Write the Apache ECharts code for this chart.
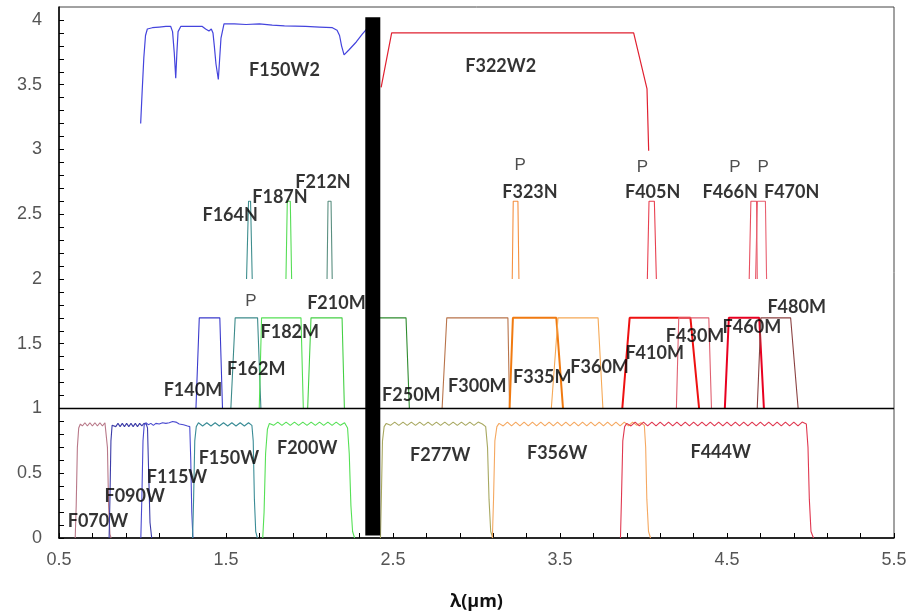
<!DOCTYPE html>
<html>
<head>
<meta charset="utf-8">
<script src="https://cdn.jsdelivr.net/npm/echarts@6/dist/echarts.min.js"></script>
<style>html,body{margin:0;padding:0;background:#fff;}#c{width:912px;height:614px;}</style>
</head>
<body>
<div id="c"></div>
<script>
// ---- axis ticks / labels ----
var xLabels = [0.5, 1.5, 2.5, 3.5, 4.5, 5.5];
var xTicks = [0.5,0.7,0.9,1.1,1.3,1.5,1.7,1.9,2.1,2.3,2.5,2.7,2.9,3.1,3.3,3.5,3.7,3.9,4.1,4.3,4.5,4.7,4.9,5.1,5.3,5.5];
var yLabels = [0, 0.5, 1, 1.5, 2, 2.5, 3, 3.5, 4];
var yTicks = [0,0.1,0.2,0.3,0.4,0.5,0.6,0.7,0.8,0.9,1,1.1,1.2,1.3,1.4,1.5,1.6,1.7,1.8,1.9,2,2.1,2.2,2.3,2.4,2.5,2.6,2.7,2.8,2.9,3,3.1,3.2,3.3,3.4,3.5,3.6,3.7,3.8,3.9,4];

// ---- wide filters ----
var F070W = [[0.597,0],[0.603,0.25],[0.610,0.7],[0.618,0.85],[0.628,0.88],[0.640,0.865],[0.655,0.89],[0.670,0.865],[0.685,0.89],[0.700,0.865],[0.715,0.89],[0.730,0.865],[0.745,0.89],[0.760,0.865],[0.775,0.89],[0.785,0.88],[0.790,0.7],[0.797,0.25],[0.805,0.03],[0.812,0]];
var F090W = [[0.800,0],[0.805,0.3],[0.811,0.75],[0.818,0.87],[0.828,0.885],[0.840,0.86],[0.853,0.885],[0.866,0.86],[0.879,0.885],[0.892,0.86],[0.905,0.885],[0.918,0.86],[0.931,0.885],[0.944,0.86],[0.957,0.885],[0.970,0.86],[0.983,0.885],[0.996,0.865],[1.009,0.885],[1.022,0.88],[1.030,0.85],[1.037,0.5],[1.045,0.12],[1.055,0]];
var F115W = [[0.990,0],[0.996,0.3],[1.003,0.75],[1.010,0.87],[1.020,0.89],[1.035,0.875],[1.050,0.885],[1.065,0.87],[1.080,0.885],[1.100,0.88],[1.120,0.89],[1.140,0.885],[1.160,0.89],[1.180,0.90],[1.200,0.895],[1.220,0.88],[1.245,0.875],[1.270,0.865],[1.283,0.86],[1.289,0.6],[1.295,0.2],[1.302,0]];
var F150W = [[1.300,0],[1.306,0.3],[1.313,0.75],[1.322,0.86],[1.335,0.89],[1.360,0.865],[1.385,0.89],[1.410,0.865],[1.435,0.89],[1.460,0.865],[1.485,0.89],[1.510,0.865],[1.535,0.89],[1.560,0.865],[1.585,0.89],[1.610,0.865],[1.635,0.89],[1.655,0.87],[1.663,0.75],[1.670,0.3],[1.678,0.05],[1.688,0]];
var F200W = [[1.720,0],[1.728,0.2],[1.737,0.65],[1.748,0.84],[1.760,0.885],[1.785,0.87],[1.810,0.895],[1.835,0.87],[1.860,0.895],[1.885,0.87],[1.910,0.895],[1.935,0.87],[1.960,0.895],[1.985,0.87],[2.010,0.895],[2.035,0.87],[2.060,0.895],[2.085,0.87],[2.110,0.895],[2.135,0.87],[2.160,0.895],[2.185,0.87],[2.210,0.89],[2.228,0.85],[2.238,0.65],[2.248,0.25],[2.258,0.05],[2.270,0]];
var F277W = [[2.425,0],[2.430,0.3],[2.437,0.75],[2.447,0.86],[2.460,0.885],[2.485,0.87],[2.510,0.895],[2.535,0.87],[2.560,0.895],[2.585,0.87],[2.610,0.895],[2.635,0.87],[2.660,0.895],[2.685,0.87],[2.710,0.895],[2.735,0.87],[2.760,0.895],[2.785,0.87],[2.810,0.895],[2.835,0.87],[2.860,0.895],[2.885,0.87],[2.910,0.895],[2.935,0.87],[2.960,0.895],[2.985,0.87],[3.010,0.895],[3.035,0.88],[3.055,0.86],[3.066,0.7],[3.075,0.3],[3.085,0.05],[3.098,0]];
var F356W = [[3.095,0],[3.102,0.3],[3.110,0.75],[3.122,0.86],[3.135,0.885],[3.160,0.865],[3.185,0.895],[3.210,0.865],[3.235,0.895],[3.260,0.865],[3.285,0.895],[3.310,0.865],[3.335,0.895],[3.360,0.865],[3.385,0.895],[3.410,0.865],[3.435,0.895],[3.460,0.865],[3.485,0.895],[3.510,0.865],[3.535,0.895],[3.560,0.865],[3.585,0.895],[3.610,0.865],[3.635,0.895],[3.660,0.865],[3.685,0.895],[3.710,0.865],[3.735,0.895],[3.760,0.865],[3.785,0.895],[3.810,0.865],[3.835,0.895],[3.860,0.865],[3.885,0.895],[3.910,0.865],[3.935,0.895],[3.960,0.87],[3.985,0.89],[4.005,0.87],[4.013,0.7],[4.020,0.3],[4.030,0.05],[4.042,0]];
var F444W = [[3.862,0],[3.868,0.3],[3.876,0.75],[3.887,0.86],[3.900,0.885],[3.925,0.865],[3.950,0.895],[3.975,0.865],[4.000,0.895],[4.025,0.865],[4.050,0.895],[4.075,0.865],[4.100,0.895],[4.125,0.865],[4.150,0.895],[4.175,0.865],[4.200,0.895],[4.225,0.865],[4.250,0.895],[4.275,0.865],[4.300,0.895],[4.325,0.865],[4.350,0.895],[4.375,0.865],[4.400,0.895],[4.425,0.865],[4.450,0.895],[4.475,0.865],[4.500,0.895],[4.525,0.865],[4.550,0.895],[4.575,0.865],[4.600,0.895],[4.625,0.865],[4.650,0.895],[4.675,0.865],[4.700,0.895],[4.725,0.865],[4.750,0.895],[4.775,0.865],[4.800,0.895],[4.825,0.865],[4.850,0.895],[4.875,0.865],[4.900,0.895],[4.925,0.865],[4.950,0.895],[4.975,0.88],[4.985,0.7],[4.993,0.3],[5.003,0.05],[5.018,0]];

// ---- medium filters ----
var F140M = [[1.320,1],[1.340,1.7],[1.463,1.7],[1.479,1]];
var F162M = [[1.529,1],[1.555,1.7],[1.689,1.7],[1.709,1]];
var F182M = [[1.699,1],[1.713,1.7],[1.949,1.7],[1.963,1]];
var F210M = [[1.989,1],[2.009,1.7],[2.195,1.7],[2.209,1]];
var F250M = [[2.380,1],[2.395,1.7],[2.578,1.7],[2.598,1]];
var F300M = [[2.794,1],[2.822,1.7],[3.188,1.7],[3.198,1]];
var F335M = [[3.198,1],[3.218,1.7],[3.478,1.7],[3.518,1]];
var F360M = [[3.448,1],[3.488,1.7],[3.728,1.7],[3.757,1]];
var F410M = [[3.873,1],[3.917,1.7],[4.281,1.7],[4.333,1]];
var F430M = [[4.197,1],[4.211,1.7],[4.391,1.7],[4.407,1]];
var F460M = [[4.487,1],[4.511,1.7],[4.693,1.7],[4.721,1]];
var F480M = [[4.681,1],[4.703,1.7],[4.881,1.7],[4.926,1]];

// ---- narrow filters ----
var F164N = [[1.623,2],[1.635,2.6],[1.647,2.6],[1.657,2]];
var F187N = [[1.859,2],[1.867,2.6],[1.885,2.6],[1.893,2]];
var F212N = [[2.105,2],[2.111,2.6],[2.129,2.6],[2.136,2]];
var F323N = [[3.214,2],[3.220,2.6],[3.248,2.6],[3.254,2]];
var F405N = [[4.023,2],[4.033,2.6],[4.065,2.6],[4.077,2]];
var F466N = [[4.633,2],[4.643,2.6],[4.677,2.6],[4.681,2]];
var F470N = [[4.671,2],[4.682,2.6],[4.730,2.6],[4.737,2]];

// ---- very wide filters ----
var F150W2 = [[0.989,3.20],[0.998,3.45],[1.008,3.71],[1.018,3.88],[1.029,3.93],[1.059,3.94],[1.100,3.945],[1.140,3.95],[1.169,3.95],[1.180,3.91],[1.190,3.75],[1.199,3.55],[1.206,3.75],[1.213,3.91],[1.229,3.95],[1.300,3.95],[1.358,3.95],[1.378,3.93],[1.398,3.915],[1.412,3.93],[1.422,3.90],[1.430,3.80],[1.440,3.66],[1.454,3.54],[1.462,3.70],[1.470,3.86],[1.488,3.97],[1.550,3.97],[1.620,3.965],[1.700,3.97],[1.777,3.96],[1.850,3.955],[1.977,3.95],[2.060,3.945],[2.137,3.94],[2.165,3.92],[2.180,3.88],[2.192,3.80],[2.207,3.73],[2.237,3.77],[2.280,3.83],[2.316,3.89],[2.350,3.94]];
var F322W2 = [[2.429,3.48],[2.492,3.90],[3.941,3.90],[4.021,3.467],[4.031,2.99]];

// ---- reference lines ----
var dividerLine = [[0.5,1],[5.5,1]];
var dichroicBar = [[2.379,0.02],[2.379,4.02]];

// ---- text annotations [x, y, text] ----
var filterLabels = [
  [1.850,3.61,'F150W2'],[3.145,3.645,'F322W2'],
  [1.525,2.49,'F164N'],[1.823,2.63,'F187N'],[2.081,2.75,'F212N'],
  [3.320,2.668,'F323N'],[4.055,2.668,'F405N'],[4.519,2.668,'F466N'],[4.887,2.668,'F470N'],
  [2.161,1.81,'F210M'],[1.882,1.59,'F182M'],[1.681,1.305,'F162M'],[1.302,1.145,'F140M'],
  [2.610,1.10,'F250M'],[3.005,1.172,'F300M'],[3.394,1.243,'F335M'],[3.737,1.321,'F360M'],
  [4.067,1.43,'F410M'],[4.309,1.56,'F430M'],[4.649,1.625,'F460M'],[4.917,1.78,'F480M'],
  [0.733,0.128,'F070W'],[0.953,0.322,'F090W'],[1.207,0.466,'F115W'],[1.517,0.616,'F150W'],
  [1.986,0.696,'F200W'],[2.783,0.638,'F277W'],[3.483,0.652,'F356W'],[4.462,0.664,'F444W']
];
var pLabels = [[1.649,1.827,'P'],[3.262,2.88,'P'],[3.993,2.86,'P'],[4.547,2.86,'P'],[4.717,2.86,'P']];

// ---- styles ----
var curves = [
  {d:F070W,c:'#b87888',w:1.1},{d:F090W,c:'#3c3ca8',w:1.1},{d:F115W,c:'#4a4ad0',w:1.1},
  {d:F150W,c:'#3a8c96',w:1.1},{d:F200W,c:'#55e055',w:1.1},{d:F277W,c:'#a8a860',w:1.1},
  {d:F356W,c:'#f5a860',w:1.1},{d:F444W,c:'#e03850',w:1.1},
  {d:F140M,c:'#3a3acc',w:1.1},{d:F162M,c:'#3d8b8b',w:1.1},{d:F182M,c:'#55e055',w:1.1},
  {d:F210M,c:'#44d044',w:1.1},{d:F250M,c:'#2e8b2e',w:1.1},{d:F300M,c:'#b8734a',w:1.1},
  {d:F335M,c:'#f07a10',w:2},{d:F360M,c:'#f5a855',w:1.1},{d:F410M,c:'#ee1111',w:2},
  {d:F430M,c:'#e06070',w:1.1},{d:F460M,c:'#e80020',w:2},{d:F480M,c:'#8a4040',w:1.1},
  {d:F164N,c:'#3e8e8e',w:1.1},{d:F187N,c:'#55dd55',w:1.1},{d:F212N,c:'#5a8f80',w:1.1},
  {d:F323N,c:'#f59040',w:1.1},{d:F405N,c:'#e84050',w:1.1},{d:F466N,c:'#e85060',w:1.1},
  {d:F470N,c:'#e86070',w:1.1},
  {d:F150W2,c:'#4444dd',w:1.2},{d:F322W2,c:'#e02030',w:1.2}
];

var series = curves.map(function (s) {
  return {type:'line', data:s.d, showSymbol:false, symbol:'none', silent:true, z:2,
          lineStyle:{color:s.c, width:s.w}, animation:false};
});
series.push({type:'line', data:dividerLine, showSymbol:false, symbol:'none', z:3,
             lineStyle:{color:'#000', width:1.3}, animation:false});
series.push({type:'line', data:dichroicBar, showSymbol:false, symbol:'none', z:5,
             lineStyle:{color:'#000', width:15, cap:'butt'}, animation:false});
series.push({type:'scatter', symbolSize:1, itemStyle:{color:'rgba(0,0,0,0)'}, z:6, animation:false,
  data: filterLabels.map(function (l) { return {value:[l[0], l[1]], name:l[2]}; }),
  label:{show:true, position:'inside', formatter:'{b}', color:'#000', fontFamily:'Lato', fontWeight:'bold', fontSize:18}});
series.push({type:'scatter', symbolSize:1, itemStyle:{color:'rgba(0,0,0,0)'}, z:6, animation:false,
  data: pLabels.map(function (l) { return {value:[l[0], l[1]], name:l[2]}; }),
  label:{show:true, position:'inside', formatter:'{b}', color:'#222', fontFamily:'Liberation Sans', fontSize:17}});

var chart = echarts.init(document.getElementById('c'), null, {renderer:'canvas'});
chart.setOption({
  animation:false,
  backgroundColor:'#fff',
  grid:{left:59, right:18, top:7, bottom:76, show:true, borderColor:'#444', borderWidth:1,
        containLabel:false, outerBoundsMode:'none'},
  xAxis:{type:'value', min:0.5, max:5.5,
    name:'λ(μm)', nameLocation:'middle', nameGap:55,
    nameTextStyle:{fontFamily:'Open Sans', fontWeight:'bold', fontSize:18, color:'#111'},
    axisLine:{show:true, lineStyle:{color:'#000', width:1.5}},
    axisTick:{show:true, inside:true, length:5, customValues:xTicks, lineStyle:{color:'#000'}},
    axisLabel:{customValues:xLabels, margin:13, fontFamily:'Liberation Sans', fontSize:18, color:'#555'},
    splitLine:{show:false}},
  yAxis:{type:'value', min:0, max:4.1,
    axisLine:{show:true, lineStyle:{color:'#000', width:1.5}},
    axisTick:{show:true, inside:true, length:5, customValues:yTicks, lineStyle:{color:'#000'}},
    axisLabel:{customValues:yLabels, margin:17, fontFamily:'Liberation Sans', fontSize:18, color:'#555'},
    splitLine:{show:false}},
  series:series
});
</script>
</body>
</html>
